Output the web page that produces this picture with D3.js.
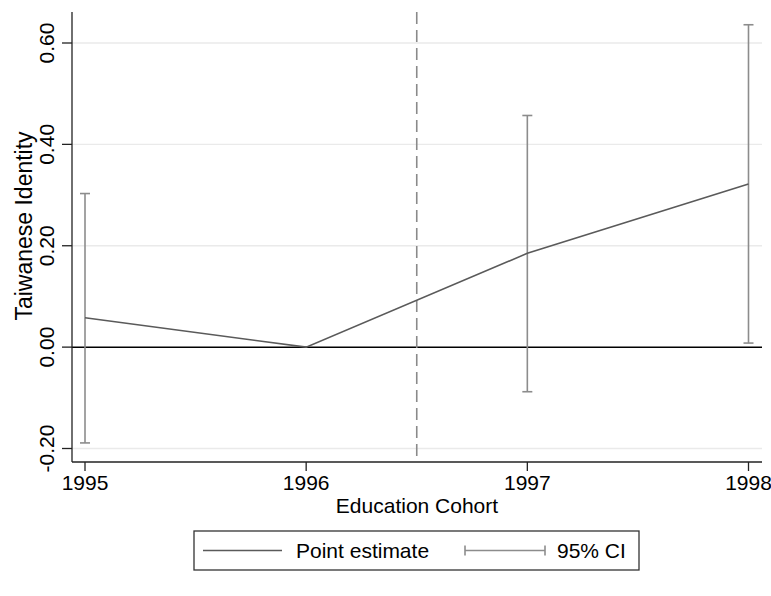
<!DOCTYPE html>
<html>
<head>
<meta charset="utf-8">
<script src="https://cdn.jsdelivr.net/npm/d3@7"></script>
<style>
  html, body { margin: 0; padding: 0; background: #fff; }
  svg { display: block; font-family: "Liberation Sans", Arial, Helvetica, sans-serif; }
</style>
</head>
<body>
<svg id="chart" width="771" height="596"></svg>
<script>
// Event-study estimates by education cohort
const cohorts   = [1995, 1996, 1997, 1998];
const estimates = [0.058, 0.000, 0.185, 0.322];
const ciLower   = [-0.189, null, -0.088, 0.008];
const ciUpper   = [0.303, null, 0.457, 0.636];
const yTicks    = [-0.2, 0.0, 0.2, 0.4, 0.6];
const cutoff    = 1996.5;

const svg = d3.select("#chart");
const FS = 21;

// Plot region
const plot = { left: 72, right: 762, top: 12, bottom: 462 };

const x = d3.scaleLinear().domain([1995, 1998]).range([85, 748.5]);
const y = d3.scaleLinear().domain([-0.2, 0.6]).range([448.5, 43]);

// Grid lines
svg.append("g").selectAll("line")
  .data(yTicks.filter(d => d !== 0))
  .join("line")
  .attr("x1", plot.left).attr("x2", plot.right)
  .attr("y1", d => y(d)).attr("y2", d => y(d))
  .attr("stroke", "#eaeaea").attr("stroke-width", 1.3);

// Reference line at zero
svg.append("line")
  .attr("x1", plot.left).attr("x2", plot.right)
  .attr("y1", y(0)).attr("y2", y(0))
  .attr("stroke", "#000").attr("stroke-width", 1.5);

// Treatment cutoff
svg.append("line")
  .attr("x1", x(cutoff)).attr("x2", x(cutoff))
  .attr("y1", plot.top).attr("y2", plot.bottom)
  .attr("stroke", "#8a8a8a").attr("stroke-width", 1.6)
  .attr("stroke-dasharray", "12,6");

// Confidence intervals
const ci = cohorts.map((c, i) => ({ c, lo: ciLower[i], hi: ciUpper[i] }))
  .filter(d => d.lo !== null);
const ciColor = "#8c8c8c";
const ciG = svg.append("g").attr("stroke", ciColor).attr("stroke-width", 1.6);
ciG.selectAll(".stem").data(ci).join("line")
  .attr("x1", d => x(d.c)).attr("x2", d => x(d.c))
  .attr("y1", d => y(d.lo)).attr("y2", d => y(d.hi));
ciG.selectAll(".capHi").data(ci).join("line")
  .attr("x1", d => x(d.c) - 5).attr("x2", d => x(d.c) + 5)
  .attr("y1", d => y(d.hi)).attr("y2", d => y(d.hi));
ciG.selectAll(".capLo").data(ci).join("line")
  .attr("x1", d => x(d.c) - 5).attr("x2", d => x(d.c) + 5)
  .attr("y1", d => y(d.lo)).attr("y2", d => y(d.lo));

// Point estimate line
svg.append("path")
  .datum(cohorts.map((c, i) => [c, estimates[i]]))
  .attr("fill", "none")
  .attr("stroke", "#5a5a5a").attr("stroke-width", 1.6)
  .attr("d", d3.line().x(d => x(d[0])).y(d => y(d[1])));

// Axes
const axisColor = "#222";
svg.append("line").attr("x1", plot.left).attr("x2", plot.left)
  .attr("y1", plot.top).attr("y2", plot.bottom)
  .attr("stroke", axisColor).attr("stroke-width", 1.3);
svg.append("line").attr("x1", plot.left).attr("x2", plot.right)
  .attr("y1", plot.bottom).attr("y2", plot.bottom)
  .attr("stroke", axisColor).attr("stroke-width", 1.3);

// Y ticks and rotated labels
const yAx = svg.append("g");
yAx.selectAll("line").data(yTicks).join("line")
  .attr("x1", plot.left - 10).attr("x2", plot.left)
  .attr("y1", d => y(d)).attr("y2", d => y(d))
  .attr("stroke", axisColor).attr("stroke-width", 1.3);
yAx.selectAll("text").data(yTicks).join("text")
  .attr("transform", d => `translate(54,${y(d)}) rotate(-90)`)
  .attr("text-anchor", "middle")
  .attr("font-size", FS)
  .text(d => d3.format(".2f")(d).replace("−", "-"));

// X ticks and labels
const xAx = svg.append("g");
xAx.selectAll("line").data(cohorts).join("line")
  .attr("x1", d => x(d)).attr("x2", d => x(d))
  .attr("y1", plot.bottom).attr("y2", plot.bottom + 9)
  .attr("stroke", axisColor).attr("stroke-width", 1.3);
xAx.selectAll("text").data(cohorts).join("text")
  .attr("x", d => x(d)).attr("y", 490)
  .attr("text-anchor", "middle")
  .attr("font-size", FS)
  .text(d => d);

// Axis titles
svg.append("text")
  .attr("x", (plot.left + plot.right) / 2).attr("y", 513)
  .attr("text-anchor", "middle").attr("font-size", FS)
  .text("Education Cohort");
svg.append("text")
  .attr("transform", `translate(32,226) rotate(-90)`)
  .attr("text-anchor", "middle").attr("font-size", 23)
  .text("Taiwanese Identity");

// Legend
const lg = svg.append("g");
lg.append("rect")
  .attr("x", 194).attr("y", 531).attr("width", 445).attr("height", 39)
  .attr("fill", "#fff").attr("stroke", "#333").attr("stroke-width", 1.3);
lg.append("line")
  .attr("x1", 203).attr("x2", 282).attr("y1", 550.5).attr("y2", 550.5)
  .attr("stroke", "#5a5a5a").attr("stroke-width", 1.6);
lg.append("text").attr("x", 296).attr("y", 558).attr("font-size", FS).text("Point estimate");
const lci = lg.append("g").attr("stroke", ciColor).attr("stroke-width", 1.6);
lci.append("line").attr("x1", 465).attr("x2", 545).attr("y1", 550.5).attr("y2", 550.5);
lci.append("line").attr("x1", 465).attr("x2", 465).attr("y1", 545.5).attr("y2", 555.5);
lci.append("line").attr("x1", 545).attr("x2", 545).attr("y1", 545.5).attr("y2", 555.5);
lg.append("text").attr("x", 557).attr("y", 558).attr("font-size", FS).text("95% CI");
</script>
</body>
</html>
